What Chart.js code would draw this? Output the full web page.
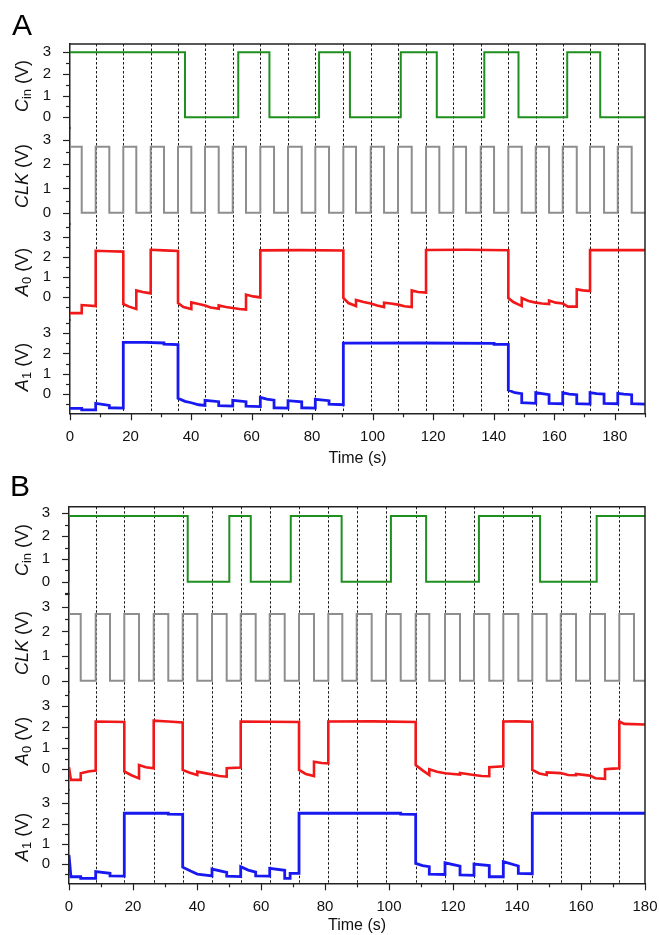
<!DOCTYPE html>
<html><head><meta charset="utf-8">
<script src="https://cdn.jsdelivr.net/npm/chart.js@4.4.1/dist/chart.umd.min.js"></script>
<style>
html,body{margin:0;padding:0;background:#fff;}
#wrap{position:relative;width:659px;height:935px;overflow:hidden;font-family:"Liberation Sans",Arial,sans-serif;color:#111;}
canvas{position:absolute;left:0;}
.panel{position:absolute;font-size:30px;line-height:1;color:#000;}
.ytitle{position:absolute;font-size:18px;line-height:1;white-space:nowrap;transform:translate(-50%,-50%) rotate(-90deg);color:#111;}
.ytitle sub{font-size:13px;vertical-align:-3px;line-height:0;}
</style>
</head><body>
<div id="wrap">
  <canvas id="cA" width="659" height="470" style="top:0px"></canvas>
  <canvas id="cB" width="659" height="465" style="top:470px"></canvas>
  <div class="panel" style="left:12px;top:10px">A</div>
  <div class="panel" style="left:10px;top:471px">B</div>
</div>
<script>
// ---------- tick labels ----------
const yTickLabels = [0, 1, 2, 3];
const yMinorTicks = [-0.5, 0, 0.5, 1, 1.5, 2, 2.5, 3, 3.5];
const xTickLabelsA = [0, 20, 40, 60, 80, 100, 120, 140, 160, 180];
const xMinorTicksA = [0,10,20,30,40,50,60,70,80,90,100,110,120,130,140,150,160,170,180,190];
const xTickLabelsB = [0, 20, 40, 60, 80, 100, 120, 140, 160, 180];
const xMinorTicksB = [0,10,20,30,40,50,60,70,80,90,100,110,120,130,140,150,160,170,180];

// ---------- Panel A data ----------
const aCinT = [0, 38.0, 55.6, 65.9, 82.3, 92.5, 109.3, 121.2, 136.9, 148.2, 164.3, 175.2, 190];
const aCinV = [3, 0, 3, 0, 3, 0, 3, 0, 3, 0, 3, 0, 0];

const aClkT = [0,3.87,8.49,12.99,17.61,21.91,26.67,31.06,35.69,40.09,44.61,49.14,53.77,58.16,62.89,67.42,72.04,76.57,81.06,85.59,90.32,94.51,99.37,103.77,108.39,112.92,117.65,122.04,126.67,130.87,135.72,140.12,144.84,149.27,153.9,158.3,162.82,167.45,171.84,176.47,181.0,185.6,190];
const aClkV = [2.72,0,2.72,0,2.72,0,2.72,0,2.72,0,2.72,0,2.72,0,2.72,0,2.72,0,2.72,0,2.72,0,2.72,0,2.72,0,2.72,0,2.72,0,2.72,0,2.72,0,2.72,0,2.72,0,2.72,0,2.72,0,0];

const aEdges = [8.49,17.61,26.67,35.69,44.61,53.77,62.89,72.04,81.06,90.32,99.37,108.39,117.65,126.67,135.72,144.84,153.9,162.82,171.84,181.0];

const aA0T = [0,3.87,3.87,8.49,8.49,13,17.61,17.61,19.5,21.91,21.91,24,26.67,26.67,31,35.69,35.69,37.5,40.09,40.09,42.5,44.61,46.5,49.14,49.14,51.5,53.77,56,58.16,58.16,60.5,62.89,62.89,76,90.32,90.32,92,94.51,94.51,97,99.37,101.5,103.77,103.77,106,108.39,110.5,112.92,112.92,115,117.65,117.65,131,144.84,144.84,146.5,149.27,149.27,151.5,153.9,156,158.3,158.3,160.5,162.82,164.5,167.45,167.45,169.5,171.84,171.84,190];
const aA0V = [-0.80,-0.80,-0.40,-0.45,2.30,2.28,2.26,-0.35,-0.48,-0.60,0.33,0.25,0.18,2.35,2.32,2.29,-0.30,-0.50,-0.60,-0.27,-0.35,-0.42,-0.52,-0.58,-0.42,-0.50,-0.55,-0.60,-0.63,0.12,0.03,-0.02,2.32,2.33,2.31,-0.05,-0.30,-0.45,-0.15,-0.25,-0.32,-0.42,-0.50,-0.28,-0.32,-0.38,-0.46,-0.50,0.33,0.25,0.22,2.34,2.35,2.33,-0.05,-0.25,-0.45,-0.05,-0.20,-0.28,-0.32,-0.35,-0.18,-0.28,-0.32,-0.48,-0.48,0.38,0.33,0.30,2.33,2.33];

const aA1T = [0,3.87,3.87,8.49,8.49,12.99,12.99,17.61,17.61,25,31.06,31.06,35.69,35.69,38,40.09,42.5,44.61,44.61,49.14,49.14,53.77,53.77,58.16,58.16,62.89,62.89,65,67.42,67.42,72.04,72.04,76.57,76.57,81.06,81.06,85.59,85.59,90.32,90.32,115,140.12,140.12,144.84,144.84,147,149.27,149.27,153.9,153.9,156,158.3,158.3,162.82,162.82,165,167.45,167.45,171.84,171.84,174,176.47,176.47,181.0,181.0,183,185.6,185.6,190];
const aA1V = [-0.73,-0.73,-0.80,-0.80,-0.48,-0.58,-0.70,-0.72,2.55,2.55,2.52,2.46,2.44,-0.23,-0.38,-0.45,-0.55,-0.58,-0.33,-0.40,-0.60,-0.62,-0.33,-0.40,-0.62,-0.64,-0.18,-0.27,-0.32,-0.70,-0.72,-0.35,-0.40,-0.70,-0.72,-0.28,-0.35,-0.52,-0.55,2.51,2.52,2.50,2.45,2.45,0.18,0.05,0.00,-0.45,-0.48,0.05,0.00,-0.05,-0.48,-0.50,0.05,-0.02,-0.05,-0.50,-0.52,0.05,0.00,-0.02,-0.48,-0.50,0.02,-0.02,-0.05,-0.50,-0.52];

// ---------- Panel B data ----------
const bCinT = [0, 0, 37.1, 50.1, 56.8, 69.3, 85.2, 100.6, 111.6, 128.1, 147.2, 164.9, 180];
const bCinV = [0, 2.88, 0, 2.88, 0, 2.88, 0, 2.88, 0, 2.88, 0, 2.88, 2.88];

const bClkT = [0,3.66,8.34,12.81,17.28,21.88,26.47,31.03,35.53,40.09,44.69,49.28,53.66,58.34,62.72,67.41,71.88,76.56,81.03,85.41,89.91,94.59,99.06,103.66,108.34,112.59,117.5,122.19,126.56,131.34,135.72,140.41,144.78,149.28,153.66,158.44,162.81,167.5,171.97,176.56,180];
const bClkV = [2.70,0,2.70,0,2.70,0,2.70,0,2.70,0,2.70,0,2.70,0,2.70,0,2.70,0,2.70,0,2.70,0,2.70,0,2.70,0,2.70,0,2.70,0,2.70,0,2.70,0,2.70,0,2.70,0,2.70,0,0];

const bEdges = [8.34,17.28,26.47,35.53,44.69,53.66,62.72,71.88,81.03,89.91,99.06,108.34,117.5,126.56,135.72,144.78,153.66,162.81,171.97];

const bA0T = [0,0.6,3.66,3.66,6,8.34,8.34,13,17.28,17.28,19.5,21.88,21.88,24,26.47,26.47,31,35.53,35.53,37.5,40.09,40.09,42.5,44.69,47,49.28,49.28,53.66,53.66,62,71.88,71.88,74,76.56,76.56,79,81.03,81.03,95,108.34,108.34,110.5,112.59,112.59,115,117.5,120,122.19,122.19,126.56,129,131.34,131.34,135.72,135.72,140,144.78,144.78,147,149.28,149.28,153.66,156,158.44,158.44,162.81,164.5,167.5,167.5,170,171.97,171.97,173.5,180];
const bA0V = [0.10,-0.50,-0.50,-0.19,-0.10,-0.06,2.26,2.25,2.24,-0.10,-0.28,-0.43,0.20,0.10,0.05,2.30,2.26,2.22,-0.03,-0.15,-0.27,-0.11,-0.18,-0.25,-0.32,-0.35,0.05,0.08,2.26,2.25,2.24,-0.03,-0.22,-0.32,0.36,0.30,0.28,2.26,2.27,2.24,0.20,-0.05,-0.27,0.00,-0.12,-0.19,-0.22,-0.25,-0.17,-0.27,-0.32,-0.33,0.10,0.14,2.26,2.27,2.25,-0.03,-0.20,-0.27,-0.15,-0.18,-0.27,-0.28,-0.22,-0.30,-0.42,-0.45,0.00,0.03,0.05,2.26,2.15,2.12];

const bA1T = [0,0.6,3.66,3.66,8.34,8.34,12.81,12.81,17.28,17.28,31.03,31.03,35.53,35.53,38,40.09,44.69,44.69,49.28,49.28,53.66,53.66,56,58.34,58.34,62.72,62.72,67.41,67.41,69.1,69.1,71.88,71.88,103.66,103.66,108.34,108.34,110.5,112.59,112.59,117.5,117.5,122.19,122.19,126.56,126.56,131.34,131.34,135.72,135.72,140.41,140.41,144.78,144.78,180];
const bA1V = [0.45,-0.63,-0.63,-0.71,-0.71,-0.38,-0.46,-0.59,-0.60,2.51,2.51,2.47,2.46,-0.16,-0.35,-0.50,-0.59,-0.25,-0.42,-0.60,-0.62,-0.13,-0.30,-0.40,-0.59,-0.60,-0.21,-0.31,-0.71,-0.71,-0.46,-0.46,2.51,2.52,2.47,2.46,0.03,-0.08,-0.13,-0.50,-0.52,0.06,-0.10,-0.54,-0.56,0.00,-0.08,-0.63,-0.63,0.12,-0.10,-0.46,-0.48,2.51,2.51];

// ---------- chart building ----------
const FONT = '"Liberation Sans", Arial, sans-serif';
Chart.defaults.font.family = FONT;
Chart.defaults.color = '#111';

function pts(T, V) { return T.map((t, i) => ({ x: t, y: V[i] })); }

function yAxis(range, stackWeight, order) {
  return {
    type: 'linear', position: 'left', stack: 'left', stackWeight: stackWeight, weight: order,
    min: range[0], max: range[1],
    grid: { display: false },
    border: { display: true, color: '#222', width: 1.5 },
    ticks: { padding: 11, font: { size: 15 }, color: '#111', autoSkip: false },
    afterBuildTicks(s) { s.ticks = yTickLabels.map(v => ({ value: v })); },
    afterFit(s) { s.width = 40; s.paddingTop = 0; s.paddingBottom = 0; s.paddingLeft = 0; s.paddingRight = 0; }
  };
}

const decor = {
  id: 'decor',
  beforeDatasetsDraw(chart, args, o) {
    const { ctx, chartArea: ca } = chart; const xs = chart.scales.x;
    ctx.save();
    ctx.strokeStyle = '#1a1a1a'; ctx.lineWidth = 1; ctx.setLineDash([2.5, 2]);
    o.edges.forEach(t => {
      const px = Math.round(xs.getPixelForValue(t)) + 0.5;
      ctx.beginPath(); ctx.moveTo(px, ca.top); ctx.lineTo(px, ca.bottom); ctx.stroke();
    });
    ctx.restore();
  },
  afterDraw(chart, args, o) {
    const { ctx, chartArea: ca } = chart; const xs = chart.scales.x;
    ctx.save();
    ctx.setLineDash([]);
    ctx.strokeStyle = '#222'; ctx.lineWidth = 1.5;
    ctx.beginPath(); ctx.moveTo(ca.left, ca.top); ctx.lineTo(ca.right, ca.top); ctx.lineTo(ca.right, ca.bottom); ctx.stroke();
    ctx.lineWidth = 1.2;
    ['yCin', 'yClk', 'yA0', 'yA1'].forEach(id => {
      const s = chart.scales[id];
      yMinorTicks.forEach(v => {
        if (v < s.min || v > s.max) return;
        const py = Math.round(s.getPixelForValue(v)) + 0.5;
        const len = yTickLabels.includes(v) ? 7 : 4;
        ctx.beginPath(); ctx.moveTo(s.right - len, py); ctx.lineTo(s.right, py); ctx.stroke();
      });
    });
    o.xMinor.forEach(v => {
      const px = Math.round(xs.getPixelForValue(v)) + 0.5;
      const len = o.xMajor.includes(v) ? 7 : 4;
      ctx.beginPath(); ctx.moveTo(px, xs.top); ctx.lineTo(px, xs.top + len); ctx.stroke();
    });
    ctx.restore();
  }
};

function makePanel(canvasId, p) {
  const datasets = [
    { label: 'Cin', data: pts(p.cinT, p.cinV), yAxisID: 'yCin', borderColor: '#1f8f1f', borderWidth: 2, stepped: true },
    { label: 'CLK', data: pts(p.clkT, p.clkV), yAxisID: 'yClk', borderColor: '#8e8e8e', borderWidth: 2, stepped: true },
    { label: 'A0', data: pts(p.a0T, p.a0V), yAxisID: 'yA0', borderColor: '#f01818', borderWidth: 2.6 },
    { label: 'A1', data: pts(p.a1T, p.a1V), yAxisID: 'yA1', borderColor: '#1818f0', borderWidth: 2.8 }
  ];
  const chart = new Chart(document.getElementById(canvasId), {
    type: 'line',
    data: { datasets },
    options: {
      responsive: false, animation: false, devicePixelRatio: 1,
      elements: { point: { radius: 0 }, line: { tension: 0 } },
      layout: { padding: p.pad },
      plugins: { legend: { display: false }, tooltip: { enabled: false },
        decor: { edges: p.edges, xMinor: p.xMinor, xMajor: p.xMajor } },
      scales: {
        x: {
          type: 'linear', position: 'bottom', min: 0, max: p.xMax,
          grid: { display: false },
          border: { display: true, color: '#222', width: 1.5 },
          ticks: { padding: p.tickPad, font: { size: 15 }, color: '#111', maxRotation: 0, autoSkip: false },
          afterBuildTicks(s) { s.ticks = p.xMajor.map(v => ({ value: v })); },
          afterFit(s) { s.height = p.xH; s.paddingLeft = 0; s.paddingRight = 0; s.paddingTop = 0; s.paddingBottom = 0; },
          title: { display: true, text: 'Time (s)', font: { size: 16 }, color: '#111', padding: { top: 0, bottom: p.titlePad } }
        },
        yA1: yAxis(p.rA1, p.wA1, 1),
        yA0: yAxis(p.rA0, p.wA0, 2),
        yClk: yAxis(p.rClk, p.wClk, 3),
        yCin: yAxis(p.rCin, p.wCin, 4)
      }
    },
    plugins: [decor]
  });
  return chart;
}

const chartA = makePanel('cA', {
  cinT: aCinT, cinV: aCinV, clkT: aClkT, clkV: aClkV, a0T: aA0T, a0V: aA0V, a1T: aA1T, a1V: aA1V,
  edges: aEdges, xMinor: xMinorTicksA, xMajor: xTickLabelsA, xMax: 190,
  pad: { top: 44, left: 30, right: 14, bottom: 0 }, xH: 56.7, titlePad: 1.5, tickPad: 6.5,
  rCin: [-0.494, 3.383], wCin: 84,
  rClk: [-0.467, 3.496], wClk: 96,
  rA0: [-1.144, 3.632], wA0: 96,
  rA1: [-0.975, 3.662], wA1: 93.3
});

const chartB = makePanel('cB', {
  cinT: bCinT, cinV: bCinV, clkT: bClkT, clkV: bClkV, a0T: bA0T, a0V: bA0V, a1T: bA1T, a1V: bA1V,
  edges: bEdges, xMinor: xMinorTicksB, xMajor: xTickLabelsB, xMax: 180,
  pad: { top: 36.7, left: 29, right: 14, bottom: 0 }, xH: 51.7, titlePad: 0, tickPad: 7,
  rCin: [-0.54, 3.29], wCin: 87.3,
  rClk: [-0.458, 3.515], wClk: 98,
  rA0: [-0.98, 3.66], wA0: 98,
  rA1: [-0.955, 3.66], wA1: 93.3
});

// ---------- y axis titles (real text with italic / subscripts) ----------
const wrap = document.getElementById('wrap');
function addTitles(chart, topOffset, xCenter) {
  const defs = [
    ['yCin', '<i>C</i><sub>in</sub> (V)'],
    ['yClk', '<i>CLK</i> (V)'],
    ['yA0', '<i>A</i><sub>0</sub> (V)'],
    ['yA1', '<i>A</i><sub>1</sub> (V)']
  ];
  defs.forEach(([id, html]) => {
    const s = chart.scales[id];
    const d = document.createElement('div');
    d.className = 'ytitle';
    d.innerHTML = html;
    d.style.left = xCenter + 'px';
    d.style.top = (topOffset + (s.top + s.bottom) / 2) + 'px';
    wrap.appendChild(d);
  });
}
addTitles(chartA, 0, 22);
addTitles(chartB, 470, 22);
</script>
</body></html>
